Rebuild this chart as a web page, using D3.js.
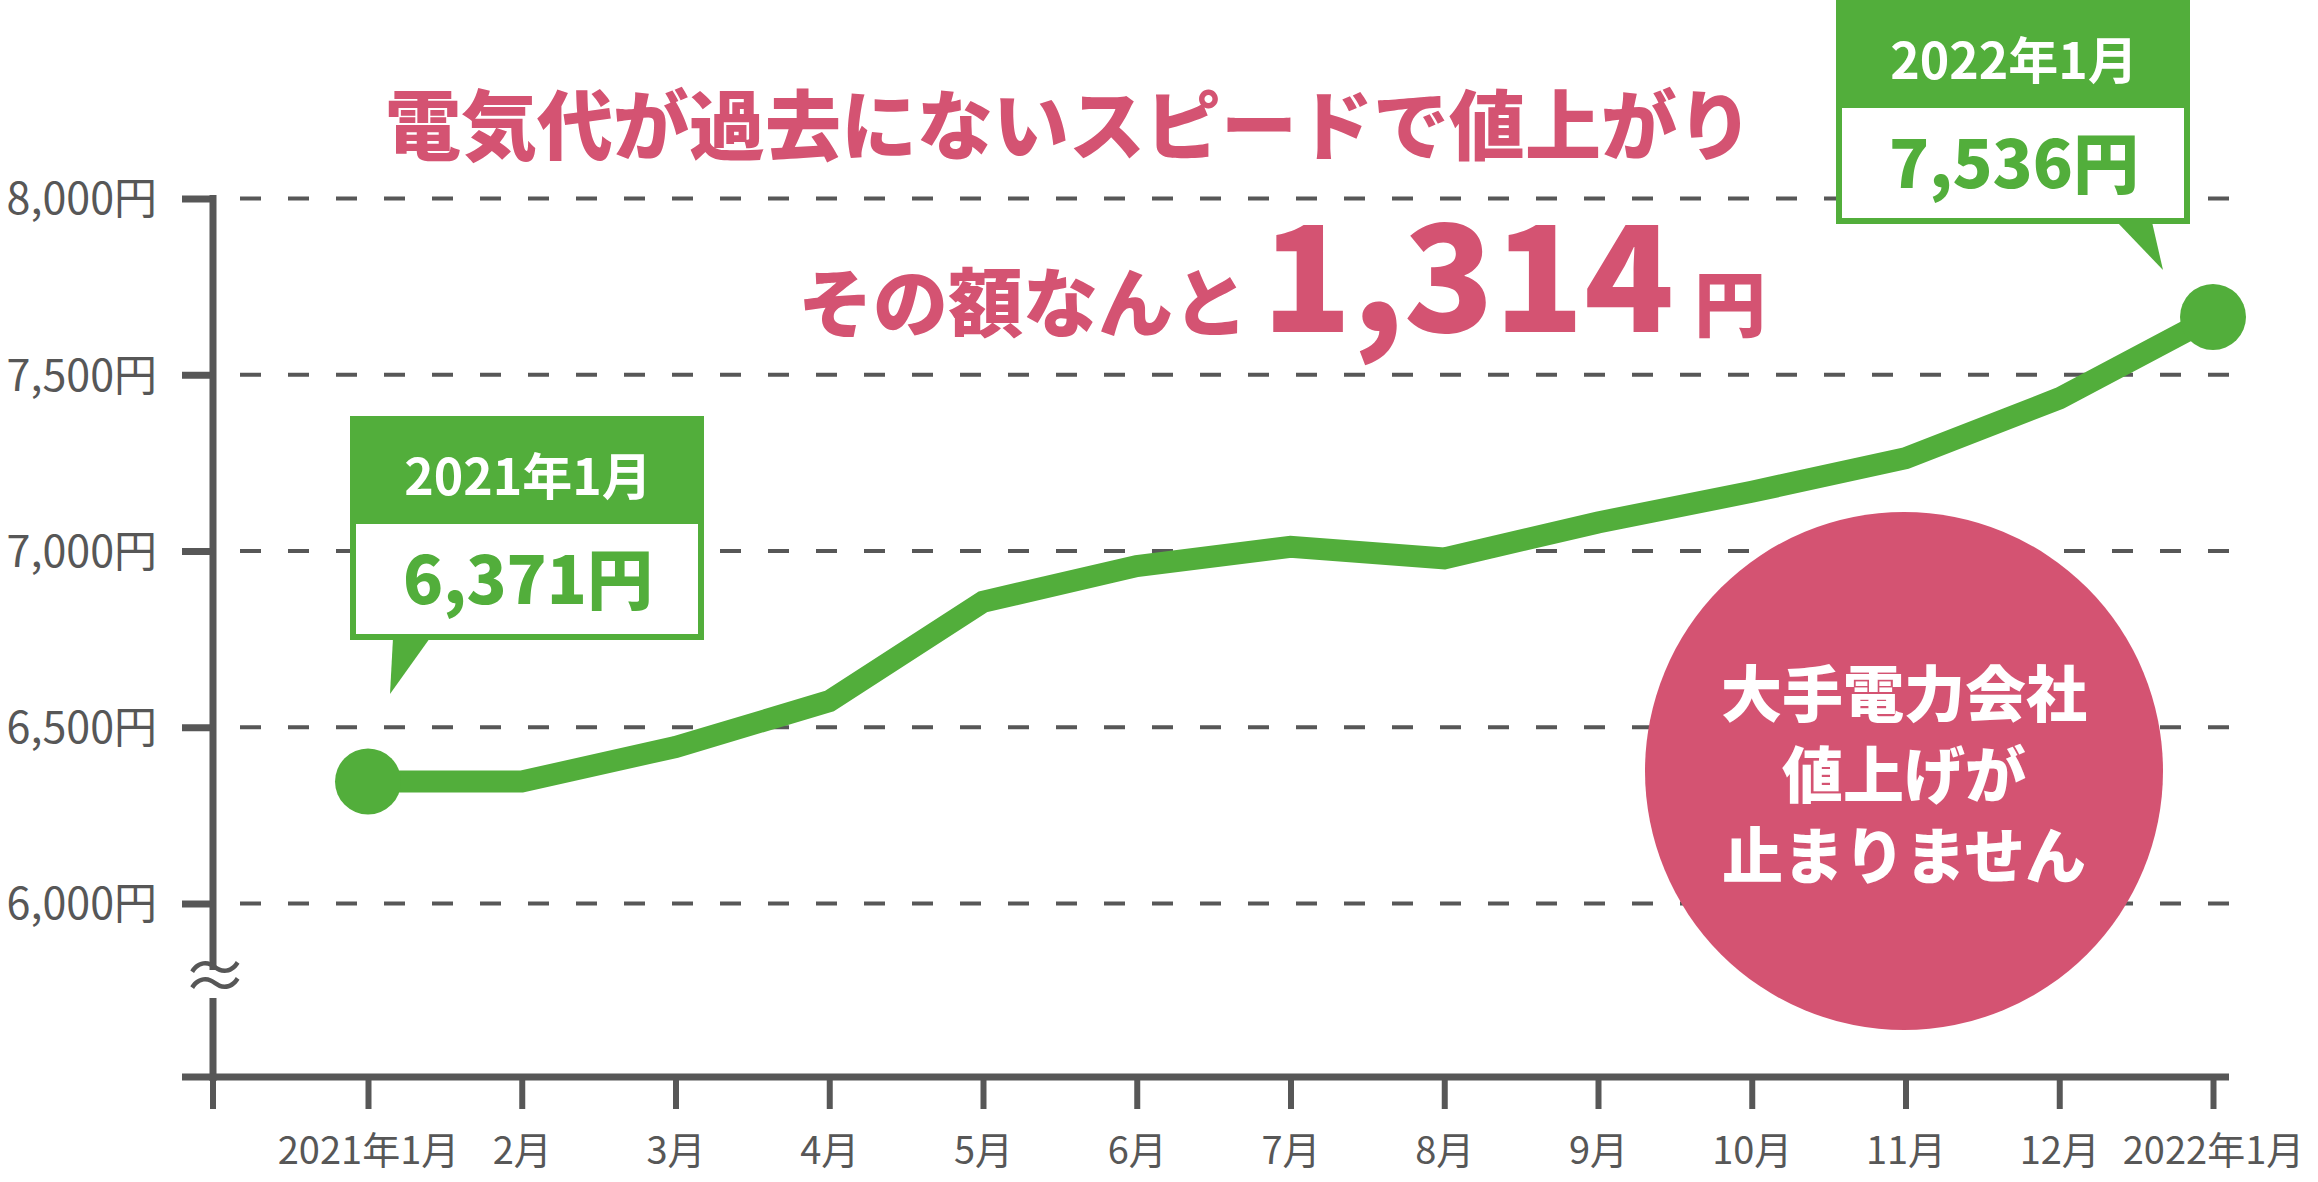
<!DOCTYPE html>
<html>
<head>
<meta charset="utf-8">
<script src="https://cdn.jsdelivr.net/npm/d3@7"></script>
<style>
  body { margin: 0; background: #fff; }
  svg { display: block; }
</style>
</head>
<body>
<svg id="chart"></svg>
<script>
var width = 2318, height = 1182;

// data
var months = ["2021年1月", "2月", "3月", "4月", "5月", "6月", "7月", "8月", "9月", "10月", "11月", "12月", "2022年1月"];
var prices = [6346, 6346, 6444, 6574, 6856, 6957, 7012, 6979, 7081, 7168, 7263, 7433, 7664];
var yTicks = [6000, 6500, 7000, 7500, 8000];
var calloutDates = ["2021年1月", "2022年1月"];
var calloutPrices = ["6,371円", "7,536円"];
var headline = "電気代が過去にないスピードで値上がり";
var subLead = "その額なんと";
var increase = "1,314";
var badgeLines = ["大手電力会社", "値上げが", "止まりません"];

var green = "#52ae3b", pink = "#d45372", gray = "#575757";
var font = "'Noto Sans CJK JP', 'Noto Sans', sans-serif";

var svg = d3.select("#chart").attr("width", width).attr("height", height);

var axisX = 213, axisY = 1077;

var x = d3.scalePoint().domain(months).range([368, 2213]);
var y = d3.scaleLinear().domain([6000, 8000]).range([903.5, 198.5]);

// dashed grid
svg.append("g")
  .selectAll("line")
  .data(yTicks)
  .join("line")
  .attr("x1", axisX)
  .attr("x2", 2235)
  .attr("y1", d => y(d))
  .attr("y2", d => y(d))
  .style("stroke", gray)
  .style("stroke-width", 4)
  .style("stroke-dasharray", "21,27")
  .style("stroke-dashoffset", -27);

// badge circle
var badge = svg.append("g").attr("transform", "translate(1904,771)");
badge.append("circle").attr("r", 259).style("fill", pink);
badge.selectAll("text")
  .data(badgeLines)
  .join("text")
  .text(d => d)
  .attr("x", 0)
  .attr("y", (d, i) => -54 + i * 81)
  .style("fill", "#fff")
  .style("font-family", font)
  .style("font-weight", 900)
  .style("font-size", "61px")
  .style("text-anchor", "middle");

// y axis
var yAxis = d3.axisLeft(y).tickValues(yTicks).tickSize(31).tickFormat(d => d3.format(",")(d) + "円");
var gy = svg.append("g").attr("transform", `translate(${axisX},0)`).call(yAxis);
gy.select(".domain").remove();
gy.selectAll(".tick line").style("stroke", gray).style("stroke-width", 7);
gy.selectAll(".tick text")
  .attr("x", -56)
  .attr("dy", "0.36em")
  .style("fill", gray)
  .style("font-family", font)
  .style("font-size", "43px");
svg.append("line")
  .attr("x1", axisX).attr("x2", axisX)
  .attr("y1", 195).attr("y2", axisY + 4)
  .style("stroke", gray).style("stroke-width", 7);

// axis break
svg.append("rect").attr("x", axisX - 10).attr("y", 970).attr("width", 20).attr("height", 28).style("fill", "#fff");
svg.append("text")
  .text("≈")
  .attr("x", axisX + 2)
  .attr("y", 1000)
  .style("fill", gray)
  .style("font-family", font)
  .style("font-size", "66px")
  .style("text-anchor", "middle");

// x axis
var xAxis = d3.axisBottom(x).tickSize(32).tickPadding(28);
var gx = svg.append("g").attr("transform", `translate(0,${axisY})`).call(xAxis);
gx.select(".domain").remove();
gx.selectAll(".tick line").style("stroke", gray).style("stroke-width", 6);
gx.selectAll(".tick text")
  .style("fill", gray)
  .style("font-family", font)
  .style("font-size", "38px");
svg.append("line")
  .attr("x1", 182).attr("x2", 2229)
  .attr("y1", axisY).attr("y2", axisY)
  .style("stroke", gray).style("stroke-width", 7);
svg.append("line")
  .attr("x1", axisX).attr("x2", axisX)
  .attr("y1", axisY).attr("y2", axisY + 32)
  .style("stroke", gray).style("stroke-width", 6);

// price line
var line = d3.line().x((d, i) => x(months[i])).y(d => y(d));
svg.append("path")
  .datum(prices)
  .attr("d", line)
  .style("fill", "none")
  .style("stroke", green)
  .style("stroke-width", 22);

var ends = [0, prices.length - 1];
svg.selectAll("circle.end")
  .data(ends)
  .join("circle")
  .attr("class", "end")
  .attr("cx", i => x(months[i]))
  .attr("cy", i => y(prices[i]))
  .attr("r", 33)
  .style("fill", green);

// callouts
var calloutBoxes = [
  { left: 350, top: 416, tail: [[393, 0], [430, 0], [390, 56]] },
  { left: 1836, top: 0, tail: [[2117, 0], [2152, 0], [2163, 48]] }
];
calloutBoxes.forEach((b, i) => {
  var g = svg.append("g").attr("transform", `translate(${b.left},${b.top})`);
  g.append("rect").attr("width", 354).attr("height", 224).style("fill", green);
  g.append("rect").attr("x", 6).attr("y", 108).attr("width", 342).attr("height", 110).style("fill", "#fff");
  g.append("path")
    .attr("d", d3.line()(b.tail.map(p => [p[0] - b.left, p[1] + 222])) + "Z")
    .style("fill", green);
  g.append("text")
    .text(calloutDates[i])
    .attr("x", 178).attr("y", 79)
    .style("fill", "#fff")
    .style("font-family", font)
    .style("font-weight", 700)
    .style("font-size", "50px")
    .style("text-anchor", "middle");
  g.append("text")
    .text(calloutPrices[i])
    .attr("x", 178).attr("y", 188)
    .style("fill", green)
    .style("font-family", font)
    .style("font-weight", 900)
    .style("font-size", "66px")
    .style("text-anchor", "middle");
});

// headline
svg.append("text")
  .text(headline)
  .attr("x", 1069).attr("y", 154)
  .style("fill", pink)
  .style("font-family", font)
  .style("font-weight", 900)
  .style("font-size", "76px")
  .style("text-anchor", "middle");

svg.append("text")
  .text(subLead)
  .attr("x", 1248).attr("y", 331)
  .style("fill", pink)
  .style("font-family", font)
  .style("font-weight", 900)
  .style("font-size", "75px")
  .style("text-anchor", "end");

svg.append("text")
  .text(increase)
  .attr("x", 1468).attr("y", 332)
  .style("fill", pink)
  .style("font-family", font)
  .style("font-weight", 900)
  .style("font-size", "148px")
  .style("text-anchor", "middle");

svg.append("text")
  .text("円")
  .attr("x", 1730).attr("y", 331)
  .style("fill", pink)
  .style("font-family", font)
  .style("font-weight", 900)
  .style("font-size", "72px")
  .style("text-anchor", "middle");
</script>
</body>
</html>
